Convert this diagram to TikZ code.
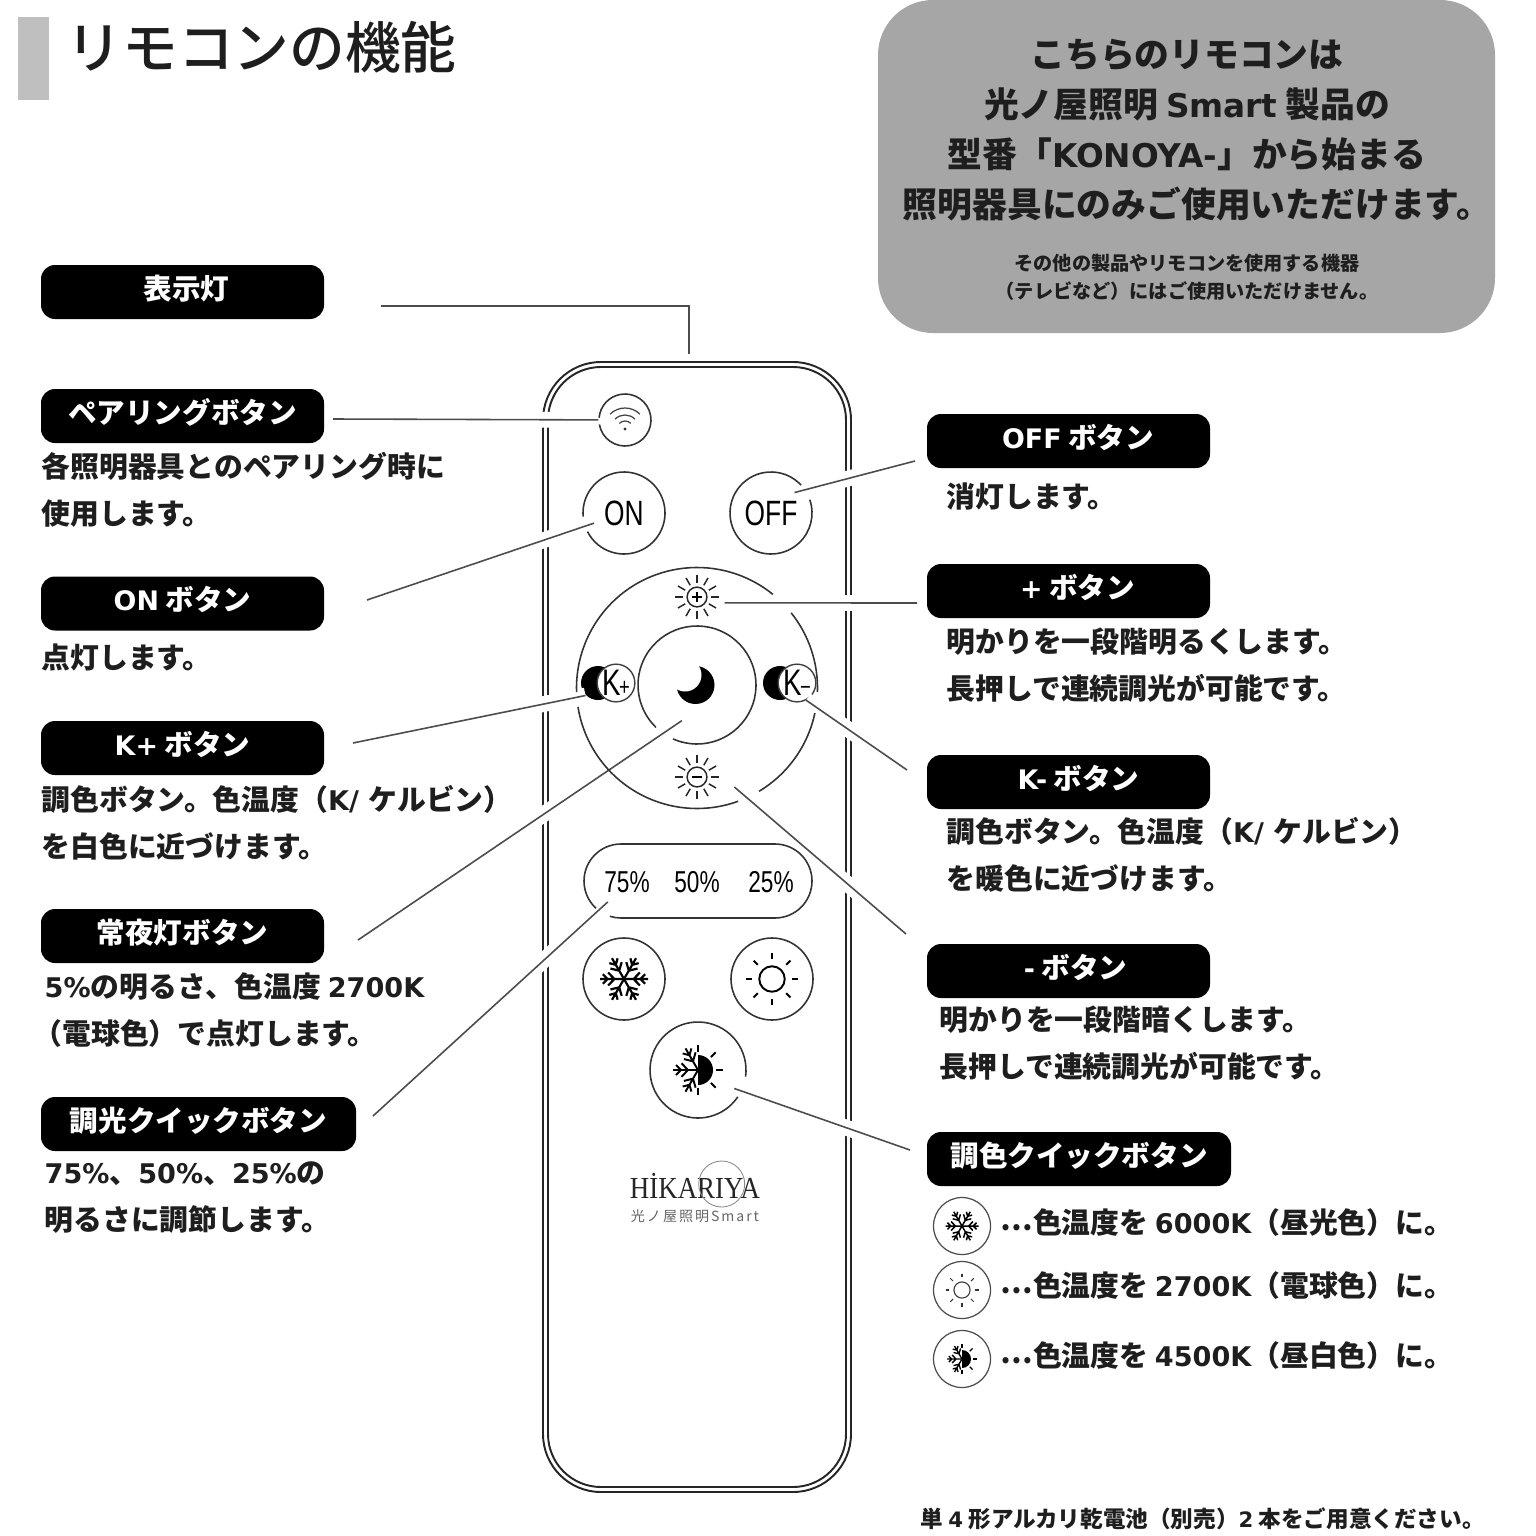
\documentclass[tikz,border=0pt]{standalone}
\usepackage{fontspec}
\usepackage{xcolor}
\setmainfont{Noto Sans CJK JP}
\newfontfamily\titlefont{Noto Sans CJK JP Medium}
\newfontfamily\latfont[Scale=0.94]{DejaVu Sans}
\newfontfamily\remotefont[FakeStretch=0.75]{Liberation Sans}
\newfontfamily\logofont[FakeStretch=0.88]{Liberation Serif}
\newfontfamily\logosubfont[LetterSpace=14]{Noto Sans CJK JP}

\definecolor{titlebar}{HTML}{BFBFBF}
\definecolor{infogray}{HTML}{A6A6A6}
\definecolor{inktext}{HTML}{1E1E1E}

\newcommand{\lat}[1]{{\latfont #1}}
\newcommand{\middots}{\raisebox{0.12em}{⋯}}
\newcommand{\gapring}[4]{\draw[ringline] (#1.center) ++(#2:#4) arc[start angle=#2, end angle=#3, radius=#4];}

\tikzset{
  tag/.style={fill=black, text=white, rounded corners=0.14cm, minimum width=2.83cm, minimum height=0.54cm,
    inner sep=0pt, text height=0.2cm, text depth=0.06cm, font=\fontsize{8.13}{10}\selectfont\bfseries},
  bodytext/.style={anchor=west, align=left, inner sep=0pt, text=inktext, font=\fontsize{8.2}{13.4}\selectfont\bfseries},
  spot/.style={circle, inner sep=0pt, minimum size=#1},
  keytext/.style={inner sep=0pt, text=black},
  ringline/.style={black!80, line width=0.45pt},
  remoteline/.style={black!85, line width=0.55pt},
  leader/.style={black!70, line width=0.45pt, preaction={draw=white, line width=4.5pt}},
  snowflake/.pic={
    \foreach \a in {0,60,...,300} {
      \draw[rotate=\a] (0,0) -- (1,0) (0.4,0) -- (0.66,0.27) (0.4,0) -- (0.66,-0.27) (0.68,0) -- (0.88,0.2) (0.68,0) -- (0.88,-0.2);
    }
  },
  sunicon/.pic={
    \draw (0,0) circle (0.49);
    \foreach \a in {0,45,...,315} { \draw[rotate=\a] (0.77,0) -- (1,0); }
  },
  mixicon/.pic={
    \foreach \a in {120,180,240} {
      \draw[rotate=\a] (0,0) -- (1,0) (0.4,0) -- (0.66,0.27) (0.4,0) -- (0.66,-0.27) (0.68,0) -- (0.88,0.2) (0.68,0) -- (0.88,-0.2);
    }
    \fill (0,0.6) arc[start angle=90, end angle=-90, radius=0.6] -- cycle;
    \foreach \a in {-90,-45,...,90} { \draw[rotate=\a] (0.73,0) -- (1,0); }
  },
  dialsun/.pic={
    \draw (0,0) circle (0.45);
    \foreach \a in {0,30,...,330} { \draw[rotate=\a] (0.62,0) -- (1,0); }
  }
}

\begin{document}
\begin{tikzpicture}[line cap=butt]
  \useasboundingbox (0,0) rectangle (15.36,-15.36);

  % heading
  \fill[titlebar] (0.18,-0.17) rectangle (0.49,-1);
  \node[anchor=west, inner sep=0pt, text=inktext, font=\titlefont\fontsize{15.85}{18}\selectfont] (heading) at (0.66,-0.47) {リモコンの機能};

  % grey notice
  \node[fill=infogray, rounded corners=0.55cm, minimum width=6.17cm, minimum height=3.33cm, inner sep=0pt] (infobox) at (11.865,-1.665) {};
  \node[align=center, inner sep=0pt, text=inktext, font=\fontsize{9.9}{14.2}\selectfont\bfseries] (infomain) at (11.87,-1.3)
    {こちらのリモコンは\\光ノ屋照明 \lat{Smart} 製品の\\型番「\lat{KONOYA-}」から始まる\\\hspace*{0.2cm}照明器具にのみご使用いただけます。};
  \node[align=center, inner sep=0pt, text=inktext, font=\fontsize{5.45}{8}\selectfont\bfseries] (infonote) at (11.87,-2.77)
    {その他の製品やリモコンを使用する機器\\（テレビなど）にはご使用いただけません。};

  % remote body
  \draw[remoteline, rounded corners=0.58cm] (5.43,-3.62) rectangle (8.51,-14.92);
  \draw[remoteline, rounded corners=0.53cm] (5.48,-3.67) rectangle (8.46,-14.87);

  % button spots
  \node[spot=0.52cm] (wifibtn) at (6.25,-4.2) {};
  \node[spot=0.62cm, keytext, font=\remotefont\fontsize{10}{12}\selectfont] (onbtn) at (6.24,-5.13) {ON};
  \node[spot=0.61cm, keytext, font=\remotefont\fontsize{10}{12}\selectfont] (offbtn) at (7.71,-5.13) {OFF};
  \node[spot=0.55cm] (plusbtn) at (6.97,-5.97) {};
  \node[spot=0.76cm] (moonbtn) at (6.97,-6.85) {};
  \node[spot=0.76cm] (minusbtn) at (6.97,-7.77) {};
  \node[spot=0.34cm, fill=black] (kplusmoon) at (5.98,-6.83) {};
  \node[spot=0.33cm, fill=white, draw=black!75, line width=0.4pt, text=black, font=\remotefont\fontsize{10.5}{11}\selectfont] (kplusbtn) at (6.16,-6.83) {K\kern-0.4pt{\fontsize{7}{7}\selectfont+}};
  \node[spot=0.34cm, fill=black] (kminusmoon) at (7.8,-6.83) {};
  \node[spot=0.33cm, fill=white, draw=black!75, line width=0.4pt, text=black, font=\remotefont\fontsize{10.5}{11}\selectfont] (kminusbtn) at (7.97,-6.83) {K\kern-0.4pt{\fontsize{7}{7}\selectfont−}};
  \node[spot=0.54cm, keytext, font=\remotefont\fontsize{8.6}{10}\selectfont] (pctA) at (6.27,-8.82) {75\%};
  \node[keytext, font=\remotefont\fontsize{8.6}{10}\selectfont] (pctB) at (6.97,-8.82) {50\%};
  \node[keytext, font=\remotefont\fontsize{8.6}{10}\selectfont] (pctC) at (7.71,-8.82) {25\%};
  \node[spot=0.82cm] (snowbtn) at (6.24,-9.79) {};
  \node[spot=0.82cm] (sunbtn) at (7.72,-9.79) {};
  \node[spot=0.8cm] (mixbtn) at (6.98,-10.7) {};

  % tags
  \node[tag] (lampTag) at (1.825,-2.92) {\hspace*{0.08cm}表示灯};
  \node[tag] (pairTag) at (1.825,-4.16) {ペアリングボタン};
  \node[tag] (onTag) at (1.825,-6.035) {\lat{ON} ボタン};
  \node[tag] (kplusTag) at (1.825,-7.48) {\lat{K+} ボタン};
  \node[tag] (nightTag) at (1.825,-9.36) {常夜灯ボタン};
  \node[tag, minimum width=3.15cm] (dimTag) at (1.985,-11.24) {調光クイックボタン};
  \node[tag] (offTag) at (10.685,-4.41) {\hspace*{0.19cm}\lat{OFF} ボタン};
  \node[tag] (plusTag) at (10.685,-5.91) {\hspace*{0.18cm}\lat{+} ボタン};
  \node[tag] (kminusTag) at (10.685,-7.82) {\hspace*{0.2cm}\lat{K-} ボタン};
  \node[tag] (minusTag) at (10.685,-9.71) {\hspace*{0.14cm}\lat{-} ボタン};
  \node[tag, minimum width=3.04cm] (toneTag) at (10.79,-11.59) {調色クイックボタン};

  % descriptions
  \node[bodytext] (pairText) at (0.41,-4.9) {各照明器具とのペアリング時に\\使用します。};
  \node[bodytext] (onText) at (0.41,-6.57) {点灯します。};
  \node[bodytext] (kplusText) at (0.41,-8.23) {調色ボタン。色温度（\lat{K/ }ケルビン）\\を白色に近づけます。};
  \node[bodytext] (nightText) at (0.44,-10.1) {\lat{5\%}の明るさ、色温度 \lat{2700K}\\\hspace*{-0.11cm}（電球色）で点灯します。};
  \node[bodytext] (dimText) at (0.44,-11.98) {\lat{75\%}、\lat{50\%}、\lat{25\%}の\\明るさに調節します。};
  \node[bodytext] (offText) at (9.46,-4.97) {消灯します。};
  \node[bodytext] (plusText) at (9.46,-6.65) {明かりを一段階明るくします。\\長押しで連続調光が可能です。};
  \node[bodytext] (kminusText) at (9.46,-8.55) {調色ボタン。色温度（\lat{K/ }ケルビン）\\を暖色に近づけます。};
  \node[bodytext] (minusText) at (9.39,-10.43) {明かりを一段階暗くします。\\長押しで連続調光が可能です。};
  \node[bodytext] (coolText) at (10,-12.23) {\middots 色温度を \lat{6000K}（昼光色）に。};
  \node[bodytext] (warmText) at (10,-12.86) {\middots 色温度を \lat{2700K}（電球色）に。};
  \node[bodytext] (midText) at (10,-13.56) {\middots 色温度を \lat{4500K}（昼白色）に。};
  \node[anchor=west, inner sep=0pt, text=inktext, font=\fontsize{6.43}{8}\selectfont\bfseries] (batteryText) at (9.2,-15.19) {単 \lat{4} 形アルカリ乾電池（別売）\lat{2} 本をご用意ください。};

  % free ends of the leader lines
  \coordinate (lampEnd) at (3.81,-3.06);
  \coordinate (lampBend) at (6.89,-3.06);
  \coordinate (lampTip) at (6.89,-3.54);
  \coordinate (pairEnd) at (3.33,-4.19);
  \coordinate (onEnd) at (3.67,-6);
  \coordinate (kplusEnd) at (3.53,-7.43);
  \coordinate (nightEnd) at (3.58,-9.4);
  \coordinate (dimEnd) at (3.73,-11.16);
  \coordinate (offEnd) at (9.15,-4.61);
  \coordinate (plusEnd) at (9.17,-6.03);
  \coordinate (kminusEnd) at (9.07,-7.7);
  \coordinate (minusEnd) at (9.06,-9.34);
  \coordinate (toneEnd) at (9.1,-11.5);

  % leader lines
  \draw[leader] (lampEnd) -- (lampBend) -- (lampTip);
  \draw[leader] (pairEnd) -- (wifibtn);
  \draw[leader] (onEnd) -- (onbtn);
  \draw[leader] (kplusEnd) -- (kplusmoon.225);
  \draw[leader] (nightEnd) -- (moonbtn.247);
  \draw[leader] (dimEnd) -- (pctA.226);
  \draw[leader] (offEnd) -- (offbtn.41);
  \draw[leader] (plusEnd) -- (plusbtn.-12);
  \draw[leader] (kminusEnd) -- (kminusbtn.-62);
  \draw[leader] (minusEnd) -- (minusbtn.-15);
  \draw[leader] (toneEnd) -- (mixbtn.-27);

  % button outlines
  \gapring{wifibtn}{-170}{175}{0.26}
  \gapring{onbtn}{207}{545}{0.41}
  \gapring{offbtn}{43}{379}{0.41}
  \gapring{moonbtn}{246}{586}{0.59}
  \gapring{snowbtn}{0}{360}{0.41}
  \gapring{sunbtn}{0}{360}{0.41}
  \gapring{mixbtn}{-8}{326}{0.48}
  % outer ring of the dial
  \coordinate (dial) at (6.97,-6.88);
  \gapring{dial}{51}{182}{1.205}
  \gapring{dial}{189}{290}{1.205}
  \gapring{dial}{-59}{-12}{1.205}
  \gapring{dial}{-2}{38.6}{1.205}
  % percent pill
  \draw[ringline] (6.21,-8.81) ++(252.5:0.37) arc[start angle=252.5, end angle=270, radius=0.37] -- (7.75,-9.18)
    arc[start angle=-90, end angle=90, radius=0.37] -- (6.21,-8.44) arc[start angle=90, end angle=227.5, radius=0.37];

  % icons
  \foreach \r in {0.08,0.14,0.21} {
    \draw[black!75, line width=0.35pt] (6.25,-4.29) ++(45:\r) arc[start angle=45, end angle=135, radius=\r];
  }
  \fill[black!80] (6.25,-4.29) circle (0.016);
  \pic[scale=0.22, black!85, line width=0.42pt] at (plusbtn) {dialsun};
  \draw[black, line width=0.55pt] (6.92,-5.97) -- (7.02,-5.97) (6.97,-5.92) -- (6.97,-6.02);
  \pic[scale=0.22, black!85, line width=0.42pt] at (minusbtn) {dialsun};
  \draw[black, line width=0.7pt] (6.92,-7.77) -- (7.02,-7.77);
  % crescent
  \fill[black] (6.955,-6.85) circle (0.19);
  \fill[white] (6.85,-6.75) circle (0.165);
  \pic[scale=0.24, line width=0.62pt] at (snowbtn) {snowflake};
  \pic[scale=0.26, line width=0.55pt] at (sunbtn) {sunicon};
  \pic[scale=0.25, line width=0.55pt] at (mixbtn) {mixicon};

  % maker's mark
  \node[inner sep=0pt, text=black!85, font=\logofont\fontsize{8.7}{10}\selectfont] (logo) at (6.95,-11.86) {HİKARIYA};
  \draw[black!45, line width=0.25pt] (7.217,-11.84) circle (0.23);
  \node[inner sep=0pt, text=black!60, font=\logosubfont\fontsize{4}{5}\selectfont] (logosub) at (6.95,-12.16) {光ノ屋照明Smart};

  % key to the tone icons
  \node[spot=0.57cm, draw=black!70, line width=0.35pt] (coolKey) at (9.62,-12.26) {};
  \node[spot=0.57cm, draw=black!70, line width=0.35pt] (warmKey) at (9.62,-12.9) {};
  \node[spot=0.57cm, draw=black!70, line width=0.35pt] (midKey) at (9.62,-13.59) {};
  \pic[scale=0.165, line width=0.42pt] at (coolKey) {snowflake};
  \pic[scale=0.165, black!80, line width=0.3pt] at (warmKey) {sunicon};
  \pic[scale=0.15, line width=0.38pt] at (midKey) {mixicon};
\end{tikzpicture}
\end{document}
